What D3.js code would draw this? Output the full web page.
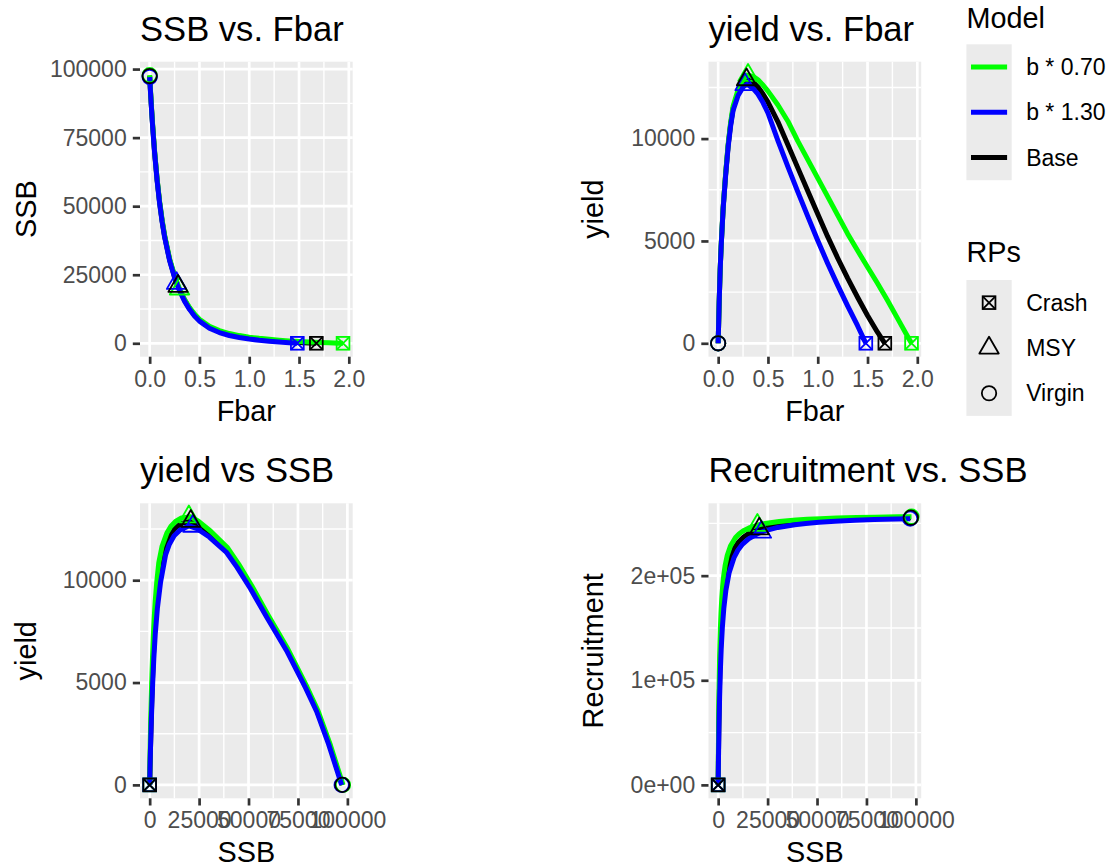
<!DOCTYPE html>
<html>
<head>
<meta charset="utf-8">
<script src="https://cdn.jsdelivr.net/npm/d3@7"></script>
<style>
  body { margin: 0; background: #ffffff; }
  text { font-family: "Liberation Sans", Arial, sans-serif; }
</style>
</head>
<body>
<svg id="chart" width="1110" height="867"></svg>
<script>
// ---- Equilibrium curves for three stock-recruit variants ----
const models = ["b * 0.70", "b * 1.30", "Base"];
const modelColours = ["#00FF00", "#0000FF", "#000000"];

// b * 0.70
const fbar070 = [0, 0.01, 0.02, 0.03, 0.05, 0.075, 0.1, 0.125, 0.15, 0.2, 0.25, 0.29, 0.35, 0.4, 0.45, 0.5, 0.6, 0.7, 0.8, 0.9, 1.0, 1.1, 1.2, 1.3, 1.4, 1.5, 1.6, 1.7, 1.8, 1.9, 1.942];
const ssb070 = [97801, 91197, 85157, 79626, 69902, 59866, 51705, 45000, 39428, 30877, 24633, 20712, 16079, 13074, 10666, 8780, 6210, 4607, 3551, 2808, 2245, 1801, 1439, 1137, 879, 659, 470, 305, 163, 40, 0];
const yield070 = [0, 2008, 3615, 4771, 6633, 8299, 9716, 10784, 11583, 12391, 12884, 13102, 13040, 12870, 12620, 12320, 11640, 10850, 9880, 8975, 8070, 7165, 6260, 5355, 4530, 3730, 2930, 2100, 1230, 360, 0];
const rec070 = [256354, 256199, 256036, 255868, 255507, 255010, 254470, 253881, 253240, 251820, 250182, 248667, 245971, 243261, 240066, 236445, 228380, 219482, 210055, 200128, 189403, 177693, 164740, 150263, 133818, 115257, 94254, 70144, 42908, 12038, 0];

// b * 1.30
const fbar130 = [0, 0.01, 0.02, 0.03, 0.05, 0.075, 0.1, 0.125, 0.15, 0.2, 0.25, 0.29, 0.35, 0.4, 0.45, 0.5, 0.6, 0.7, 0.8, 0.9, 1.0, 1.1, 1.2, 1.3, 1.4, 1.483];
const ssb130 = [97099, 90495, 84455, 78924, 69200, 59164, 51003, 44298, 38726, 30175, 23931, 20010, 15377, 12372, 9964, 8078, 5508, 3905, 2849, 2106, 1543, 1099, 737, 435, 177, 0];
const yield130 = [0, 1992, 3585, 4729, 6567, 8201, 9584, 10616, 11377, 12109, 12516, 12658, 12450, 12170, 11760, 11250, 9900, 8630, 7400, 6200, 5020, 3900, 2840, 1830, 860, 0];
const rec130 = [254513, 254227, 253927, 253612, 252940, 252022, 251014, 249918, 248731, 246095, 243052, 240240, 235232, 230199, 224267, 217541, 202563, 186037, 168529, 150098, 130178, 108433, 84372, 57488, 26946, 0];

// Base
const fbarBase = [0, 0.01, 0.02, 0.03, 0.05, 0.075, 0.1, 0.125, 0.15, 0.2, 0.25, 0.29, 0.35, 0.4, 0.45, 0.5, 0.6, 0.7, 0.8, 0.9, 1.0, 1.1, 1.2, 1.3, 1.4, 1.5, 1.6, 1.674];
const ssbBase = [97450, 90846, 84806, 79275, 69551, 59515, 51354, 44649, 39077, 30526, 24282, 20361, 15728, 12723, 10315, 8429, 5859, 4256, 3200, 2457, 1894, 1450, 1088, 786, 528, 308, 119, 0];
const yieldBase = [0, 2000, 3600, 4750, 6600, 8250, 9650, 10700, 11480, 12250, 12700, 12880, 12760, 12520, 12180, 11780, 10820, 9700, 8570, 7440, 6320, 5210, 4170, 3180, 2250, 1360, 540, 0];
const recBase = [255433, 255213, 254982, 254741, 254225, 253516, 252741, 251898, 250985, 248959, 246617, 244453, 240601, 236729, 232167, 226991, 215473, 202760, 189292, 175113, 159792, 143064, 124556, 103876, 80381, 53868, 23865, 0];

// Reference points (Crash, MSY, Virgin) per model
const rpNames = ["Crash", "MSY", "Virgin"];
const rpFbar070 = [1.942, 0.30, 0];
const rpSsb070 = [0, 19840, 97801];
const rpYield070 = [0, 13100, 0];
const rpRec070 = [0, 248250, 256354];
const rpFbar130 = [1.483, 0.27, 0];
const rpSsb130 = [0, 21870, 97099];
const rpYield130 = [0, 12640, 0];
const rpRec130 = [0, 241690, 254513];
const rpFbarBase = [1.674, 0.285, 0];
const rpSsbBase = [0, 20800, 97450];
const rpYieldBase = [0, 12880, 0];
const rpRecBase = [0, 244740, 255433];

// Axis breaks and labels
const fbarTicks = [0, 0.5, 1, 1.5, 2];
const fbarTickLabels = ["0.0", "0.5", "1.0", "1.5", "2.0"];
const ssbTicks = [0, 25000, 50000, 75000, 100000];
const ssbTickLabels = ["0", "25000", "50000", "75000", "100000"];
const yieldTicks = [0, 5000, 10000];
const yieldTickLabels = ["0", "5000", "10000"];
const recTicks = [0, 100000, 200000];
const recTickLabels = ["0e+00", "1e+05", "2e+05"];

// ---- tables built from the arrays ----
function rows(f, s, y, r) { return f.map((v, i) => ({fbar: v, ssb: s[i], yield: y[i], rec: r[i]})); }
const curves = {
  "b * 0.70": rows(fbar070, ssb070, yield070, rec070),
  "b * 1.30": rows(fbar130, ssb130, yield130, rec130),
  "Base": rows(fbarBase, ssbBase, yieldBase, recBase)
};
const refpts = {
  "b * 0.70": rows(rpFbar070, rpSsb070, rpYield070, rpRec070),
  "b * 1.30": rows(rpFbar130, rpSsb130, rpYield130, rpRec130),
  "Base": rows(rpFbarBase, rpSsbBase, rpYieldBase, rpRecBase)
};
const colourOf = m => modelColours[models.indexOf(m)];

const allRows = models.flatMap(m => curves[m].concat(refpts[m]));
function expanded(key) {
  const e = d3.extent(allRows, d => d[key]);
  const span = e[1] - e[0];
  return [e[0] - 0.05 * span, e[1] + 0.05 * span];
}

const axes = {
  fbar: {ticks: fbarTicks, labels: fbarTickLabels},
  ssb: {ticks: ssbTicks, labels: ssbTickLabels},
  yield: {ticks: yieldTicks, labels: yieldTickLabels},
  rec: {ticks: recTicks, labels: recTickLabels}
};

const PW = 212.7, PH = 295;
const panels = [
  {title: "SSB vs. Fbar", x: "fbar", y: "ssb", xlab: "Fbar", ylab: "SSB", left: 140, top: 61.7, ytx: 35.5},
  {title: "yield vs. Fbar", x: "fbar", y: "yield", xlab: "Fbar", ylab: "yield", left: 708.5, top: 61.7, ytx: 603},
  {title: "yield vs SSB", x: "ssb", y: "yield", xlab: "SSB", ylab: "yield", left: 140, top: 503.3, ytx: 35.5},
  {title: "Recruitment vs. SSB", x: "ssb", y: "rec", xlab: "SSB", ylab: "Recruitment", left: 708.5, top: 503.3, ytx: 603}
];

const svg = d3.select("#chart");
const defs = svg.append("defs");

const PT_R = 7.2, PT_STROKE = 1.8, LINE_W = 5;
function drawShape(g, shape, colour) {
  if (shape === "Virgin") {
    g.append("circle").attr("r", PT_R).attr("fill", "none")
      .attr("stroke", colour).attr("stroke-width", PT_STROKE);
  } else if (shape === "MSY") {
    const r = 1.555 * PT_R, xc = 1.347 * PT_R, yc = 0.778 * PT_R;
    g.append("path").attr("d", `M0,${-r}L${xc},${yc}L${-xc},${yc}Z`)
      .attr("fill", "none").attr("stroke", colour).attr("stroke-width", PT_STROKE)
      .attr("stroke-linejoin", "round");
  } else {
    const h = 0.886 * PT_R;
    g.append("rect").attr("x", -h).attr("y", -h).attr("width", 2 * h).attr("height", 2 * h)
      .attr("fill", "none").attr("stroke", colour).attr("stroke-width", PT_STROKE);
    g.append("path").attr("d", `M${-h},${-h}L${h},${h}M${-h},${h}L${h},${-h}`)
      .attr("stroke", colour).attr("stroke-width", PT_STROKE);
  }
}

function minorBreaks(major, domain) {
  const step = major[1] - major[0];
  const out = [];
  for (let v = major[0] - step / 2; v <= domain[1]; v += step) {
    if (v >= domain[0]) out.push(v);
  }
  return out;
}

panels.forEach((p, pi) => {
  const xs = d3.scaleLinear().domain(expanded(p.x)).range([0, PW]);
  const ys = d3.scaleLinear().domain(expanded(p.y)).range([PH, 0]);
  const g = svg.append("g").attr("transform", `translate(${p.left},${p.top})`);

  g.append("rect").attr("width", PW).attr("height", PH).attr("fill", "#EBEBEB");

  const xMaj = axes[p.x].ticks, yMaj = axes[p.y].ticks;
  const grid = g.append("g");
  minorBreaks(xMaj, xs.domain()).forEach(v => grid.append("line")
    .attr("x1", xs(v)).attr("x2", xs(v)).attr("y1", 0).attr("y2", PH)
    .attr("stroke", "#fff").attr("stroke-width", 1.4));
  minorBreaks(yMaj, ys.domain()).forEach(v => grid.append("line")
    .attr("y1", ys(v)).attr("y2", ys(v)).attr("x1", 0).attr("x2", PW)
    .attr("stroke", "#fff").attr("stroke-width", 1.4));
  xMaj.forEach(v => grid.append("line")
    .attr("x1", xs(v)).attr("x2", xs(v)).attr("y1", 0).attr("y2", PH)
    .attr("stroke", "#fff").attr("stroke-width", 2.7));
  yMaj.forEach(v => grid.append("line")
    .attr("y1", ys(v)).attr("y2", ys(v)).attr("x1", 0).attr("x2", PW)
    .attr("stroke", "#fff").attr("stroke-width", 2.7));

  const clipId = "clip" + pi;
  defs.append("clipPath").attr("id", clipId).append("rect").attr("width", PW).attr("height", PH);
  const plot = g.append("g").attr("clip-path", `url(#${clipId})`);

  const line = d3.line().x(d => xs(d[p.x])).y(d => ys(d[p.y]));
  ["Base", "b * 0.70", "b * 1.30"].forEach(m => {
    plot.append("path").datum(curves[m]).attr("d", line)
      .attr("fill", "none").attr("stroke", colourOf(m)).attr("stroke-width", LINE_W)
      .attr("stroke-linejoin", "round");
  });
  models.forEach(m => {
    refpts[m].forEach((d, k) => {
      const pg = plot.append("g").attr("transform", `translate(${xs(d[p.x])},${ys(d[p.y])})`);
      drawShape(pg, rpNames[k], colourOf(m));
    });
  });

  // axes
  const xAxis = d3.axisBottom(xs).tickValues(xMaj)
    .tickFormat((v, i) => axes[p.x].labels[i]).tickSize(7.2).tickSizeOuter(0).tickPadding(6.6);
  const yAxis = d3.axisLeft(ys).tickValues(yMaj)
    .tickFormat((v, i) => axes[p.y].labels[i]).tickSize(7.2).tickSizeOuter(0).tickPadding(6.1);
  const gx = g.append("g").attr("transform", `translate(0,${PH})`).call(xAxis);
  const gy = g.append("g").call(yAxis);
  [gx, gy].forEach(a => {
    a.select(".domain").remove();
    a.selectAll(".tick line").attr("stroke", "#333333").attr("stroke-width", 2.7);
    a.selectAll(".tick text").attr("fill", "#4D4D4D").style("font-size", "23px");
  });

  // titles
  svg.append("text").attr("x", p.left).attr("y", p.top - 21)
    .style("font-size", "34.6px").attr("fill", "#000").text(p.title);
  svg.append("text").attr("x", p.left + PW / 2).attr("y", p.top + PH + 64)
    .attr("text-anchor", "middle").style("font-size", "28.8px").attr("fill", "#000").text(p.xlab);
  svg.append("text").attr("transform", `translate(${p.ytx},${p.top + PH / 2}) rotate(-90)`)
    .attr("text-anchor", "middle").style("font-size", "28.8px").attr("fill", "#000").text(p.ylab);
});

// ---- legends ----
const LX = 966.4, KEY = 45.3, LABX = 1026.2;
const lg = svg.append("g");
lg.append("text").attr("x", LX).attr("y", 28.3).style("font-size", "28.8px").text("Model");
lg.append("rect").attr("x", LX).attr("y", 44.3).attr("width", KEY).attr("height", KEY * models.length).attr("fill", "#EBEBEB");
models.forEach((m, i) => {
  const cy = 44.3 + KEY * i + KEY / 2;
  lg.append("line").attr("x1", LX + 4.6).attr("x2", LX + KEY - 4.6).attr("y1", cy).attr("y2", cy)
    .attr("stroke", modelColours[i]).attr("stroke-width", LINE_W);
  lg.append("text").attr("x", LABX).attr("y", cy).attr("dy", "0.35em").style("font-size", "23px").text(m);
});
lg.append("text").attr("x", LX).attr("y", 261.7).style("font-size", "28.8px").text("RPs");
lg.append("rect").attr("x", LX).attr("y", 280).attr("width", KEY).attr("height", KEY * rpNames.length).attr("fill", "#EBEBEB");
rpNames.forEach((r, i) => {
  const cy = 280 + KEY * i + KEY / 2;
  drawShape(lg.append("g").attr("transform", `translate(${LX + KEY / 2},${cy})`), r, "#000");
  lg.append("text").attr("x", LABX).attr("y", cy).attr("dy", "0.35em").style("font-size", "23px").text(r);
});
</script>
</body>
</html>
